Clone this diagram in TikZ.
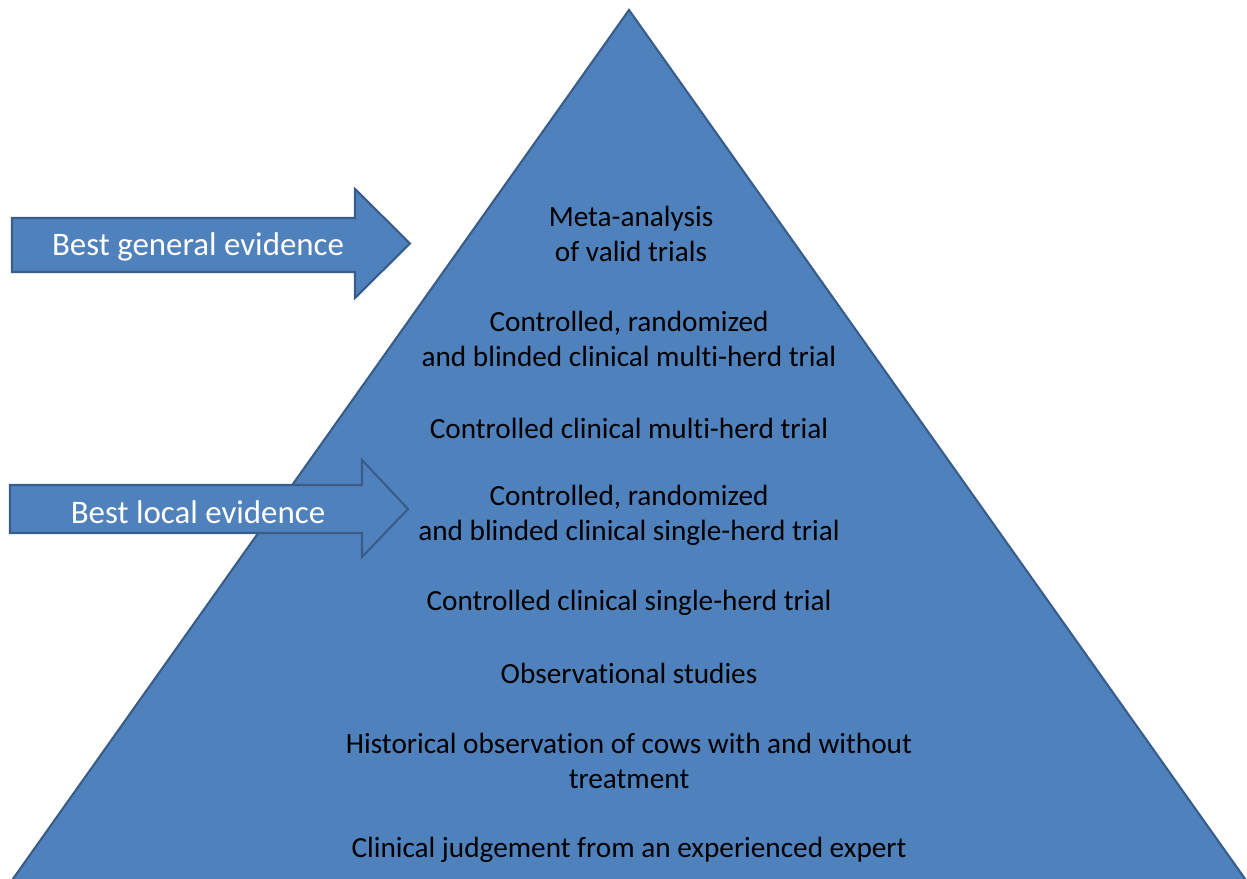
\documentclass[tikz,border=0pt]{standalone}
\usepackage{fontspec}
\setmainfont{Carlito}[Ligatures=NoCommon]

\definecolor{pyrblue}{RGB}{79,129,189}
\definecolor{pyredge}{RGB}{56,93,138}

\tikzset{
  blueshape/.style={fill=pyrblue,draw=pyredge,line width=1.5pt,line join=miter},
  level/.style={align=center,text=black,inner sep=0pt,font=\fontsize{20.8}{25}\selectfont},
  banner/.style={text=white,inner sep=0pt,font=\fontsize{23.4}{28}\selectfont}
}

\begin{document}
\begin{tikzpicture}[x=0.025cm,y=-0.025cm]
  \clip (0,0) rectangle (1247,879);
  \coordinate (apex) at (629,10);
  \coordinate (baseL) at (-2,900);
  \coordinate (baseR) at (1260,900);
  \draw[blueshape] (apex) -- (baseR) -- (baseL) -- cycle;
  \draw[blueshape] (12,218) -- (355,218) -- (355,189) -- (410,243.5) -- (355,298) -- (355,272) -- (12,272) -- cycle;
  \node[banner] (general) at (198,247) {Best general evidence};
  \draw[blueshape] (10,485) -- (362,485) -- (362,460) -- (408,509) -- (362,557) -- (362,533) -- (10,533) -- cycle;
  \node[banner] (local) at (198,512) {Best local evidence};
  \node[level] (meta) at (631,234) {Meta-analysis\\ of valid trials};
  \node[level] (rcbmulti) at (629,339) {Controlled, randomized\\and blinded clinical multi-herd trial};
  \node[level] (cmulti) at (629,428) {Controlled clinical multi-herd trial};
  \node[level] (rcbsingle) at (629,515) {Controlled, randomized\\and blinded clinical single-herd trial};
  \node[level] (csingle) at (629,603) {Controlled clinical single-herd trial};
  \node[level] (obs) at (629,673) {Observational studies};
  \node[level] (hist) at (629,761) {Historical observation of cows with and without\\treatment};
  \node[level] (expert) at (629,850) {Clinical judgement from an experienced expert};
\end{tikzpicture}
\end{document}
